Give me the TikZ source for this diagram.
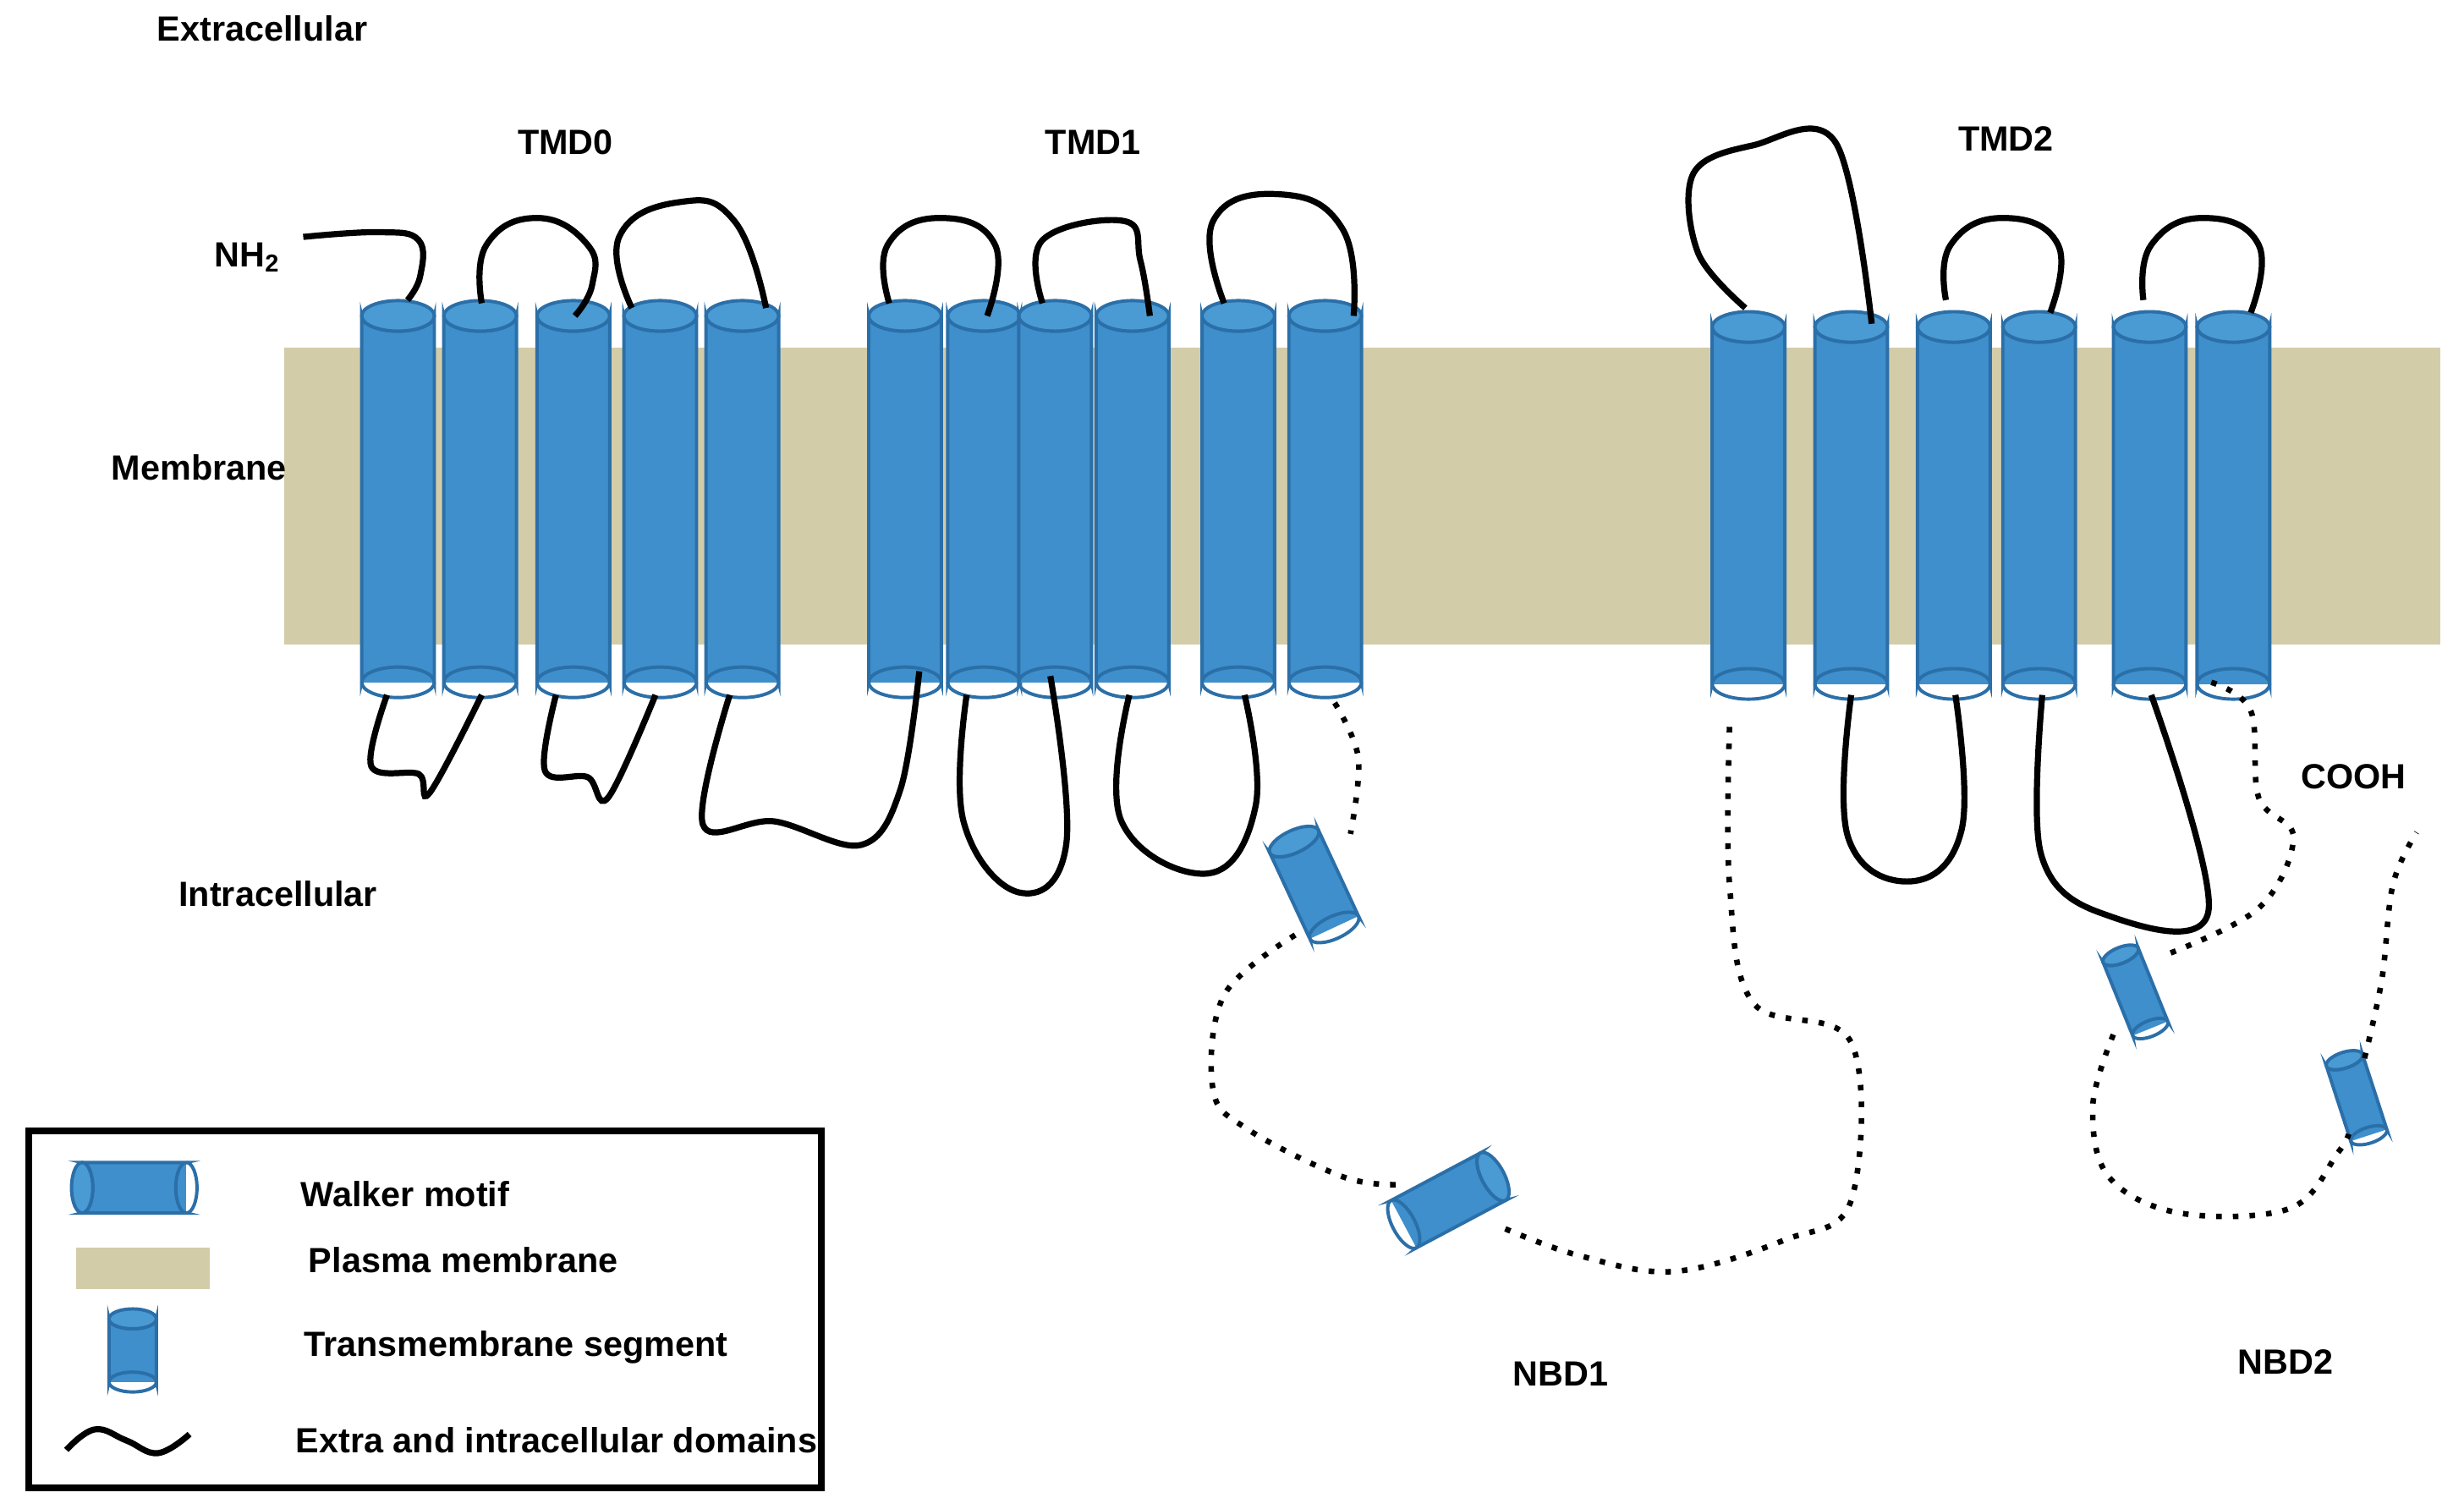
\documentclass[tikz,border=0pt]{standalone}
\usepackage{fontspec}
\setmainfont{Liberation Sans}
\begin{document}
\definecolor{memb}{HTML}{D3CCA8}
\definecolor{cylb}{HTML}{3E8FCC}
\definecolor{cyle}{HTML}{2B6FA8}
\definecolor{cylt}{HTML}{4A9AD4}
\newcommand\mycyl[5]{% x y rot halflen halfwidth
 \begin{scope}[shift={(#1,#2)},rotate=#3]
 \fill[cylb] (-#5,-#4) rectangle (#5,#4);
 \filldraw[cylb,draw=cyle,line width=0.6pt] (-#5,#4) arc[start angle=180,end angle=360,x radius=#5,y radius=0.42*#5] -- (#5,-#4) arc[start angle=0,end angle=180,x radius=#5,y radius=0.42*#5] -- cycle;
 \filldraw[cylt,draw=cyle,line width=0.6pt] (0,-#4) ellipse[x radius=#5,y radius=0.42*#5];
 \draw[cyle,line width=0.6pt] (-#5,#4) arc[start angle=180,end angle=0,x radius=#5,y radius=0.42*#5];
 \end{scope}}
\begin{tikzpicture}[x=0.01cm,y=-0.01cm,
 lbl/.style={font=\fontsize{6.3}{7}\selectfont\bfseries},
 lp/.style={line width=1.1pt,black},
 dl/.style={line width=1pt,black,dotted}]
\useasboundingbox (0,0) rectangle (1560,955);
\fill[memb] (180,220) rectangle (1545,408);
\foreach \x in {252,304,363,418,470,573,623,668,717,784,839}{\mycyl{\x}{316}{0}{116}{23}}
\foreach \x in {1107,1172,1237,1291,1361,1414}{\mycyl{\x}{320}{0}{113}{23}}
% extracellular loops
\draw[lp] plot[smooth,tension=0.7] coordinates {(192,150)(240,147)(265,152)(266,175)(258,190)};
\draw[lp] plot[smooth,tension=0.8] coordinates {(305,192)(308,155)(340,138)(372,155)(375,180)(364,200)};
\draw[lp] plot[smooth,tension=0.8] coordinates {(400,195)(392,150)(430,128)(465,140)(485,195)};
\draw[lp] plot[smooth,tension=0.8] coordinates {(563,192)(562,155)(595,138)(630,155)(625,200)};
\draw[lp] plot[smooth,tension=0.7] coordinates {(660,192)(660,152)(712,140)(722,165)(728,200)};
\draw[lp] plot[smooth,tension=0.8] coordinates {(775,192)(768,140)(810,123)(850,145)(857,200)};
\draw[lp] plot[smooth,tension=0.6] coordinates {(1105,195)(1075,160)(1072,110)(1110,92)(1162,90)(1185,205)};
\draw[lp] plot[smooth,tension=0.8] coordinates {(1232,190)(1235,155)(1268,138)(1303,155)(1298,198)};
\draw[lp] plot[smooth,tension=0.8] coordinates {(1357,190)(1362,155)(1395,138)(1430,155)(1425,198)};
% intracellular loops
\draw[lp] plot[smooth,tension=0.6] coordinates {(245,440)(235,485)(265,490)(272,502)(305,440)};
\draw[lp] plot[smooth,tension=0.6] coordinates {(352,440)(345,488)(372,492)(385,505)(415,440)};
\draw[lp] plot[smooth,tension=0.6] coordinates {(462,440)(445,522)(490,520)(545,535)(570,500)(582,425)};
\draw[lp] plot[smooth,tension=0.7] coordinates {(612,440)(610,520)(645,565)(675,535)(665,428)};
\draw[lp] plot[smooth,tension=0.7] coordinates {(715,440)(710,520)(765,553)(795,510)(788,440)};
\draw[lp] plot[smooth,tension=0.7] coordinates {(1172,440)(1170,530)(1210,558)(1242,525)(1238,440)};
\draw[lp] plot[smooth,tension=0.6] coordinates {(1293,440)(1292,540)(1330,578)(1398,578)(1362,440)};
% NBD1
\draw[dl] plot[smooth,tension=0.6] coordinates {(845,445)(860,480)(855,528)};
\mycyl{832}{560}{25}{30}{17}
\mycyl{917}{760}{-62}{32}{17}
\draw[dl] plot[smooth,tension=0.6] coordinates {(820,592)(775,630)(768,690)(790,715)(850,745)(885,750)};
\draw[dl] plot[smooth,tension=0.6] coordinates {(953,778)(1000,795)(1060,805)(1130,785)(1172,760)(1172,660)(1110,635)(1095,560)(1095,460)};
% NBD2
\mycyl{1352}{628}{22}{25}{12}
\mycyl{1492}{695}{18}{25}{12}
\draw[dl] plot[smooth,tension=0.6] coordinates {(1400,432)(1425,450)(1430,505)(1452,530)(1430,575)(1370,605)};
\draw[dl] plot[smooth,tension=0.6] coordinates {(1338,655)(1325,700)(1335,745)(1380,768)(1450,765)(1480,730)(1487,718)};
\draw[dl] plot[smooth,tension=0.6] coordinates {(1497,670)(1508,620)(1515,560)(1530,527)};
% labels
\node[lbl] (ex) at (166,18) {Extracellular};
\node[lbl] (t0) at (358,90) {TMD0};
\node[lbl] (t1) at (692,90) {TMD1};
\node[lbl] (t2) at (1270,88) {TMD2};
\node[lbl] (nh) at (157,163) {NH\textsubscript{2}};
\node[lbl] (mb) at (126,296) {Membrane};
\node[lbl] (ic) at (176,566) {Intracellular};
\node[lbl] (co) at (1490,492) {COOH};
\node[lbl] (n1) at (988,870) {NBD1};
\node[lbl] (n2) at (1447,862) {NBD2};
% legend
\draw[line width=1.2pt] (18,716) rectangle (520,942);
\mycyl{85}{752}{90}{33}{16}
\fill[memb] (48,790) rectangle (133,816);
\mycyl{84}{855}{0}{20}{15}
\draw[lp] plot[smooth,tension=0.7] coordinates {(42,918)(60,905)(80,912)(100,920)(120,908)};
\node[lbl,anchor=west] (l1) at (178,756) {Walker motif};
\node[lbl,anchor=west] (l2) at (183,798) {Plasma membrane};
\node[lbl,anchor=west] (l3) at (180,853) {Transmembrane segment};
\node[lbl,anchor=west] (l4) at (175,912) {Extra and intracellular domains};
\end{tikzpicture}
\end{document}
